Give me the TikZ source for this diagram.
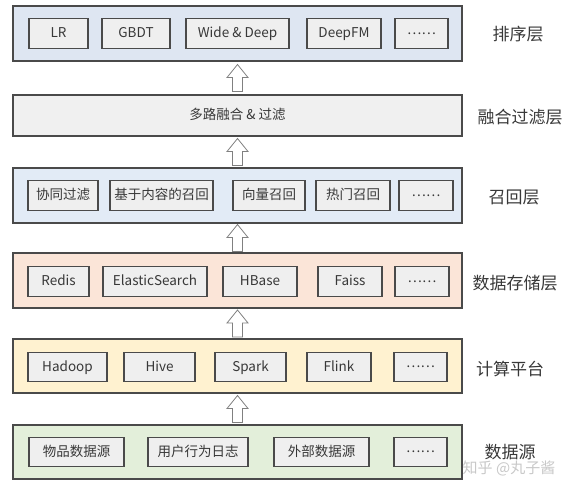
\documentclass[tikz,border=0pt]{standalone}
\usepackage{fontspec}
\setmainfont{Noto Sans CJK SC}
\usetikzlibrary{calc}
\definecolor{borderc}{HTML}{4A4A4A}
\definecolor{textc}{HTML}{383838}
\definecolor{innerfill}{HTML}{EFEFEF}
\definecolor{bluefill}{HTML}{DEE6F2}
\definecolor{grayfill}{HTML}{F0F0F0}
\definecolor{bluefillb}{HTML}{E2EBF6}
\definecolor{peachfill}{HTML}{FBE5D8}
\definecolor{yellowfill}{HTML}{FFF2D0}
\definecolor{greenfill}{HTML}{E3EFDA}
\definecolor{arrowc}{HTML}{808080}
\definecolor{markc}{HTML}{C8C8C8}
\begin{document}
\begin{tikzpicture}[x=1pt,y=-1pt,
  layer/.style={draw=borderc,line width=1.1pt,inner sep=0pt,minimum width=449pt},
  ib/.style={draw=borderc,line width=1.1pt,fill=innerfill,inner sep=0pt,minimum height=29.5pt,text=textc,font=\fontsize{13.5}{15}\selectfont,text height=10.5pt,text depth=2.5pt},
  dotsbox/.style={ib,text height={},text depth={}},
  lab/.style={text=textc,font=\fontsize{17}{19}\selectfont,inner sep=0pt},
  uparrow/.pic={\draw[arrowc,fill=white,line width=0.8pt,line join=miter] (0,-13.5) -- (10.5,-0.5) -- (5,-0.5) -- (5,13.5) -- (-5,13.5) -- (-5,-0.5) -- (-10.5,-0.5) -- cycle;}
]
\useasboundingbox (0,0) rectangle (585,495);

% layers
\node[layer,fill=bluefill,minimum height=55pt] (L1) at (237.5,33.5) {};
\node[layer,fill=grayfill,minimum height=41pt,text=textc,font=\fontsize{13.5}{15}\selectfont,text height=10.5pt,text depth=2.5pt] (L2) at (237.5,115.5) {多路融合 \& 过滤};
\node[layer,fill=bluefillb,minimum height=55pt] (L3) at (237.5,195.5) {};
\node[layer,fill=peachfill,minimum height=55pt] (L4) at (237.5,280.5) {};
\node[layer,fill=yellowfill,minimum height=54pt] (L5) at (237.5,366) {};
\node[layer,fill=greenfill,minimum height=54pt] (L6) at (237.5,452) {};

% layer 1
\node[ib,minimum width=59pt] (lr) at (58.5,33.5) {LR};
\node[ib,minimum width=68pt] (gbdt) at (136,33.5) {GBDT};
\node[ib,minimum width=103pt] (wd) at (237.5,33.5) {Wide \& Deep};
\node[ib,minimum width=74pt] (dfm) at (344,33.5) {DeepFM};
\node[dotsbox,minimum width=53pt] (d1) at (421.5,33.5) {……};

% layer 3
\node[ib,minimum width=70pt] (cf) at (63,195.5) {协同过滤};
\node[ib,minimum width=103pt] (cb) at (161.5,195.5) {基于内容的召回};
\node[ib,minimum width=72pt] (vec) at (269,195.5) {向量召回};
\node[ib,minimum width=74pt] (hot) at (353,195.5) {热门召回};
\node[dotsbox,minimum width=54pt] (d3) at (426,195.5) {……};

% layer 4
\node[ib,minimum width=61pt] (redis) at (58.5,281.5) {Redis};
\node[ib,minimum width=104pt] (es) at (155,281.5) {ElasticSearch};
\node[ib,minimum width=74pt] (hbase) at (260,281.5) {HBase};
\node[ib,minimum width=64pt] (faiss) at (350,281.5) {Faiss};
\node[dotsbox,minimum width=54pt] (d4) at (422,281.5) {……};

% layer 5
\node[ib,minimum width=79pt] (hadoop) at (67.5,367) {Hadoop};
\node[ib,minimum width=71pt] (hive) at (159.5,367) {Hive};
\node[ib,minimum width=71pt] (spark) at (250.5,367) {Spark};
\node[ib,minimum width=64pt] (flink) at (339,367) {Flink};
\node[dotsbox,minimum width=53pt] (d5) at (420.5,367) {……};

% layer 6
\node[ib,minimum width=95pt] (item) at (76.5,452) {物品数据源};
\node[ib,minimum width=100pt] (ulog) at (198,452) {用户行为日志};
\node[ib,minimum width=95pt] (ext) at (321.5,452) {外部数据源};
\node[dotsbox,minimum width=53pt] (d6) at (420.5,452) {……};

% labels
\node[lab] (t1) at (518,34) {排序层};
\node[lab] (t2) at (520,117) {融合过滤层};
\node[lab] (t3) at (514,197) {召回层};
\node[lab] (t4) at (515,283) {数据存储层};
\node[lab] (t5) at (510,369) {计算平台};
\node[lab] (t6) at (510,452) {数据源};

% arrows
\pic at ($(L1.south)!0.5!(L2.north)$) {uparrow};
\pic at ($(L2.south)!0.5!(L3.north)$) {uparrow};
\pic at ($(L3.south)!0.5!(L4.north)$) {uparrow};
\pic at ($(L4.south)!0.5!(L5.north)$) {uparrow};
\pic at ($(L5.south)!0.5!(L6.north)$) {uparrow};

% watermark
\node[text=markc,font=\fontsize{15}{17}\selectfont,inner sep=0pt] (wm) at (509,468) {知乎 @丸子酱};
\end{tikzpicture}
\end{document}
